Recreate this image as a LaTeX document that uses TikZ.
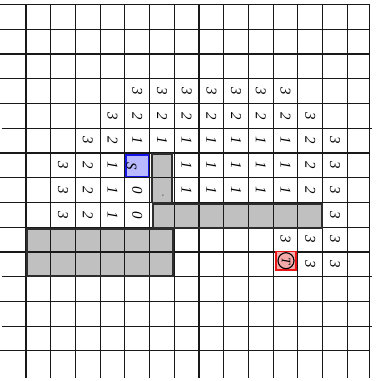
\documentclass[tikz,border=0pt]{standalone}
\usepackage{graphicx}
\usepackage{fontspec}
\setmainfont{Liberation Serif}
\definecolor{obsfill}{RGB}{192,192,192}
\definecolor{obsdraw}{RGB}{45,45,45}
\definecolor{sfill}{RGB}{185,185,255}
\definecolor{sdraw}{RGB}{20,20,230}
\definecolor{tfill}{RGB}{245,170,170}
\definecolor{tdraw}{RGB}{235,20,20}
\newcommand\cellnum[3]{\node[num] (n#1-#2) at ({1.3+24.715*(#2+0.5)},{4.5+24.74*(#1+0.5)}) {\rotatebox{-90}{#3}};}
\begin{document}
\begin{tikzpicture}[x=1bp,y=-1bp,
  num/.style={inner sep=0pt, font=\fontsize{15}{15}\selectfont\itshape},
  gridline/.style={line width=1.2bp, draw=black!90},
  obst/.style={fill=obsfill},
  obstborder/.style={draw=obsdraw, line width=1.8bp},
  sbox/.style={fill=sfill, draw=sdraw, line width=1.3bp},
  tbox/.style={fill=tfill, draw=tdraw, line width=1.3bp}]
\useasboundingbox (0,0) rectangle (377,381);
% obstacle fills
\fill[obst] (151.7,154) rectangle (171.7,202.5);
\fill[obst] (153.3,204) rectangle (321.7,228);
\fill[obst] (26.7,229.3) rectangle (173.3,276);
% grid
\foreach \j in {0,1,2,3,4,6,7,8,9,10,12,14} {
  \draw[gridline] (0,{4.5+24.74*\j}) -- (369.5,{4.5+24.74*\j});
}
\foreach \j in {5,11,13} {
  \draw[gridline] (2,{4.5+24.74*\j}) -- (372,{4.5+24.74*\j});
}
\foreach \i in {1,...,14} {
  \draw[gridline] ({1.3+24.715*\i},4.5) -- ({1.3+24.715*\i},378);
}
\draw[gridline] (369.5,4.5) -- (369.5,378);
% obstacle borders
\draw[obstborder] (151.7,154) rectangle (171.7,202.5);
\draw[obstborder] (153.3,204) rectangle (321.7,228);
\draw[obstborder] (26.7,229.3) rectangle (173.3,276);
% start and target
\draw[sbox] (126,155) rectangle (148.3,176.7);
\node[num] (s) at (131.5,166.5) {\rotatebox{-90}{S}};
\draw[tbox] (276,251.5) rectangle (296,270);
\draw[line width=1.1bp] (286,260.7) circle (8);
\node[num, font=\fontsize{13}{13}\selectfont\itshape] (t) at (286,260.7) {\rotatebox{-90}{T}};
\node[num, font=\fontsize{9}{9}\selectfont] (dot) at (163,196) {\rotatebox{-90}{.}};
% numbers
\foreach \c in {5,...,11} {\cellnum{3}{\c}{3}}
\cellnum{4}{4}{3}
\foreach \c in {5,...,11} {\cellnum{4}{\c}{2}}
\cellnum{4}{12}{3}
\cellnum{5}{3}{3}
\cellnum{5}{4}{2}
\foreach \c in {5,...,11} {\cellnum{5}{\c}{1}}
\cellnum{5}{12}{2}
\cellnum{5}{13}{3}
\cellnum{6}{2}{3}
\cellnum{6}{3}{2}
\cellnum{6}{4}{1}
\foreach \c in {7,...,11} {\cellnum{6}{\c}{1}}
\cellnum{6}{12}{2}
\cellnum{6}{13}{3}
\cellnum{7}{2}{3}
\cellnum{7}{3}{2}
\cellnum{7}{4}{1}
\cellnum{7}{5}{0}
\foreach \c in {7,...,11} {\cellnum{7}{\c}{1}}
\cellnum{7}{12}{2}
\cellnum{7}{13}{3}
\cellnum{8}{2}{3}
\cellnum{8}{3}{2}
\cellnum{8}{4}{1}
\cellnum{8}{5}{0}
\cellnum{8}{13}{3}
\cellnum{9}{11}{3}
\cellnum{9}{12}{3}
\cellnum{9}{13}{3}
\cellnum{10}{12}{3}
\cellnum{10}{13}{3}
\end{tikzpicture}
\end{document}
